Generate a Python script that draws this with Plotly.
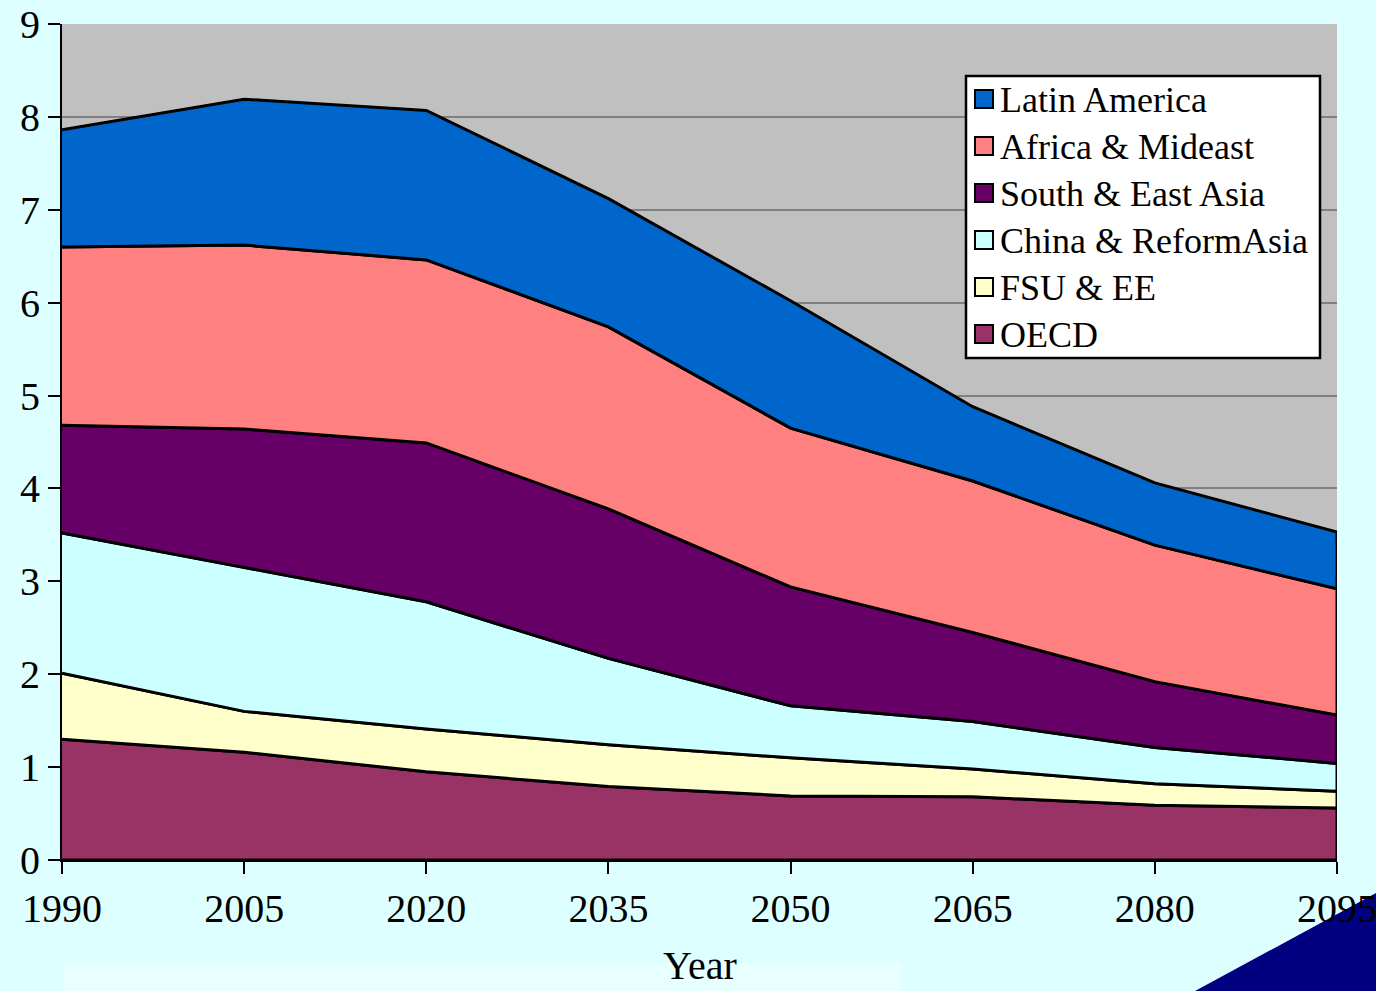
import plotly.graph_objects as go

# Years on the horizontal axis
years = [1990, 2005, 2020, 2035, 2050, 2065, 2080, 2095]

# Regional values (stacked bottom to top)
oecd = [1.30, 1.16, 0.95, 0.79, 0.69, 0.68, 0.59, 0.56]
fsu_ee = [0.71, 0.44, 0.46, 0.45, 0.41, 0.30, 0.23, 0.18]
china_reform = [1.51, 1.55, 1.37, 0.93, 0.56, 0.51, 0.39, 0.30]
south_east_asia = [1.16, 1.49, 1.71, 1.61, 1.28, 0.96, 0.71, 0.52]
africa_mideast = [1.92, 1.98, 1.97, 1.96, 1.71, 1.63, 1.47, 1.36]
latin_america = [1.26, 1.57, 1.61, 1.38, 1.37, 0.80, 0.67, 0.61]

series = [
    ("OECD", oecd, "#993366"),
    ("FSU & EE", fsu_ee, "#FFFFCC"),
    ("China & ReformAsia", china_reform, "#CCFFFF"),
    ("South & East Asia", south_east_asia, "#660066"),
    ("Africa & Mideast", africa_mideast, "#FF8080"),
    ("Latin America", latin_america, "#0066CC"),
]

y_ticks = list(range(0, 10))
FONT = "Liberation Serif, Times New Roman, serif"

# plot-area geometry in pixels, used to place the legend box in paper units
W, H = 1376, 991
L, R, T, B = 62, 39, 24, 131
PW, PH = W - L - R, H - T - B


def px(xp):
    return (xp - L) / PW


def py(yp):
    return (H - B - yp) / PH


fig = go.Figure()

# Each band is drawn as a closed polygon between its lower and upper edge
base = [0.0] * len(years)
for name, vals, color in series:
    top = [b + v for b, v in zip(base, vals)]
    fig.add_trace(go.Scatter(
        x=years + years[::-1],
        y=top + base[::-1],
        mode="lines",
        fill="toself",
        fillcolor=color,
        line=dict(color="black", width=3),
        name=name,
        hoverinfo="skip",
        showlegend=False,
    ))
    base = top

# Legend: framed white box with a square swatch per region (top entry first)
shapes = [
    # faint lighter band along the bottom edge
    dict(type="rect", xref="paper", yref="paper", layer="below",
         x0=px(64), x1=px(901), y0=py(963), y1=py(991),
         fillcolor="#E8FFFF", line=dict(width=0)),
    # dark navy corner wedge
    dict(type="path", xref="paper", yref="paper", layer="below",
         path=f"M {px(1195)} {py(991)} L {px(1376)} {py(991)} L {px(1376)} {py(893)} Z",
         fillcolor="#000080", line=dict(width=0)),
    # legend frame
    dict(type="rect", xref="paper", yref="paper", layer="above",
         x0=px(966), x1=px(1320), y0=py(358), y1=py(76),
         fillcolor="white", line=dict(color="black", width=2.5)),
]
annotations = []
row_top, row_gap = 99, 47
for i, (name, _, color) in enumerate(reversed(series)):
    cy = row_top + i * row_gap
    shapes.append(dict(type="rect", xref="paper", yref="paper", layer="above",
                       x0=px(975), x1=px(993), y0=py(cy + 9), y1=py(cy - 9),
                       fillcolor=color, line=dict(color="black", width=2)))
    annotations.append(dict(xref="paper", yref="paper", x=px(998), y=py(cy + 1),
                            xanchor="left", yanchor="middle", showarrow=False,
                            text=name, font=dict(family=FONT, size=36, color="black")))

# x-axis title, set low against the bottom edge
annotations.append(dict(xref="paper", yref="paper", x=0.5, y=py(989),
                        xanchor="center", yanchor="bottom", showarrow=False,
                        borderpad=0,
                        text="Year", font=dict(family=FONT, size=40, color="black")))

fig.update_layout(
    width=W,
    height=H,
    margin=dict(l=L, r=R, t=T, b=B),
    paper_bgcolor="#DEFFFF",
    plot_bgcolor="#C0C0C0",
    font=dict(family=FONT, color="black", size=40),
    showlegend=False,
    xaxis=dict(
        range=[1990, 2095],
        tickvals=years,
        ticktext=[str(y) for y in years],
        showgrid=False,
        zeroline=False,
        automargin=False,
        ticklabeloverflow="allow",
        showline=True, linecolor="black", linewidth=2,
        ticks="outside", ticklen=12, tickwidth=2, tickcolor="black",
        tickfont=dict(family=FONT, size=40, color="black"),
    ),
    yaxis=dict(
        range=[0, 9],
        tickvals=y_ticks,
        showgrid=True, gridcolor="#808080", gridwidth=2,
        zeroline=False,
        automargin=False,
        ticklabeloverflow="allow",
        showline=True, linecolor="black", linewidth=2,
        ticks="outside", ticklen=12, tickwidth=2, tickcolor="black",
        tickfont=dict(family=FONT, size=40, color="black"),
    ),
    shapes=shapes,
    annotations=annotations,
)

fig.write_html("out.html")
